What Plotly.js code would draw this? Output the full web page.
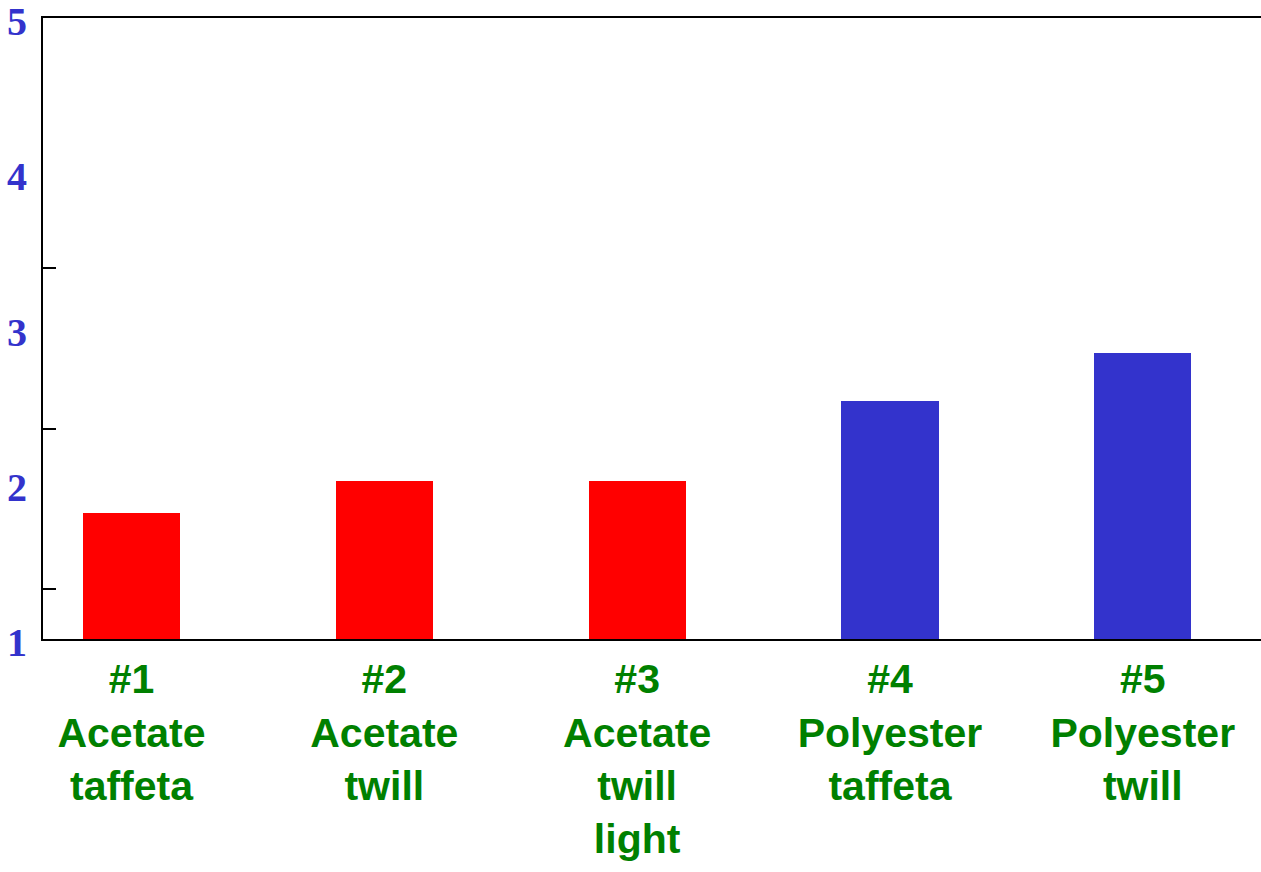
<!DOCTYPE html>
<html>
<head>
<meta charset="utf-8">
<script src="https://cdn.plot.ly/plotly-3.0.1.min.js"></script>
<style>html,body{margin:0;padding:0;background:#fff;}#chart{width:1261px;height:872px;}</style>
</head>
<body>
<div id="chart"></div>
<script>
const categories = ["#1<br>Acetate<br>taffeta", "#2<br>Acetate<br>twill", "#3<br>Acetate<br>twill<br>light", "#4<br>Polyester<br>taffeta", "#5<br>Polyester<br>twill"];
const values = [1.81, 2.02, 2.02, 2.53, 2.84];
const barColors = ["#ff0000", "#ff0000", "#ff0000", "#3333cc", "#3333cc"];
const yTickVals = [1, 2, 3, 4, 5];
const yTickText = ["1", "2", "3", "4", "5"];
const innerTickVals = [1.32, 2.35, 3.39];
const axisBase = 1;

const trace = {
  type: "bar",
  x: categories,
  y: values.map(v => v - axisBase),
  base: axisBase,
  marker: {color: barColors},
  width: 0.384,
  hoverinfo: "none"
};

const ghost = {
  type: "scatter", x: [categories[0]], y: [axisBase], yaxis: "y2", mode: "none", hoverinfo: "none", showlegend: false
};

const layout = {
  width: 1261, height: 872,
  margin: {l: 43, r: 0, t: 18, b: 233},
  paper_bgcolor: "#ffffff",
  plot_bgcolor: "#ffffff",
  showlegend: false,
  bargap: 0,
  xaxis: {
    type: "category",
    range: [-0.350, 4.4676],
    showline: true, linecolor: "#000", linewidth: 2, mirror: true,
    showgrid: false, zeroline: false,
    ticks: "",
    ticklabelstandoff: 3,
    tickfont: {family: "Liberation Sans, Arial, sans-serif", size: 41, color: "#008000", weight: "bold"}
  },
  yaxis: {
    range: [0.9999, 5.0001],
    showline: true, linecolor: "#000", linewidth: 2,
    showgrid: false, zeroline: false,
    tickvals: yTickVals, ticktext: yTickText,
    ticks: "",
    ticklabelstandoff: 6,
    ticklabelshift: 3,
    ticklabeloverflow: "allow",
    tickfont: {family: "Liberation Serif, Times New Roman, serif", size: 40, color: "#3333cc", weight: "bold"}
  },
  yaxis2: {
    overlaying: "y", side: "left", range: [0.9999, 5.0001],
    showline: false, showgrid: false, zeroline: false,
    tickvals: innerTickVals, ticks: "inside", ticklen: 13, tickwidth: 2, tickcolor: "#000",
    showticklabels: false
  }
};

Plotly.newPlot("chart", [trace, ghost], layout, {displayModeBar: false, staticPlot: true});
</script>
</body>
</html>
